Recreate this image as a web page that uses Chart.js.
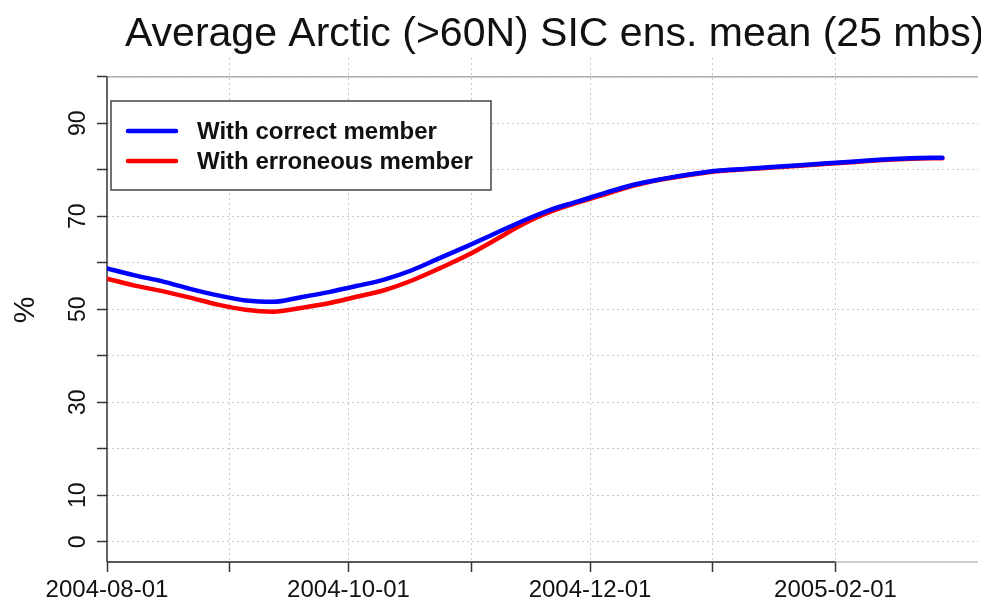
<!DOCTYPE html>
<html>
<head>
<meta charset="utf-8">
<script src="https://cdn.jsdelivr.net/npm/chart.js@4"></script>
<style>
  body { margin: 0; background: #fff; }
  #wrap { width: 981px; height: 601px; }
</style>
</head>
<body>
<div id="wrap"><canvas id="canvas"></canvas></div>
<script>
const dates = ['2004-08-01', '2004-08-08', '2004-08-15', '2004-08-22', '2004-08-29',
  '2004-09-05', '2004-09-12', '2004-09-19', '2004-09-26', '2004-10-03',
  '2004-10-10', '2004-10-17', '2004-10-24', '2004-10-31', '2004-11-07',
  '2004-11-14', '2004-11-21', '2004-11-28', '2004-12-05', '2004-12-12',
  '2004-12-19', '2004-12-26', '2005-01-02', '2005-01-09', '2005-01-16',
  '2005-01-23', '2005-01-30', '2005-02-06', '2005-02-13', '2005-02-20', '2005-02-28']

const correct = [58.8, 57.3, 56.0, 54.4, 53.0, 51.9, 51.6, 52.6, 53.7, 55.0,
  56.4, 58.4, 61.0, 63.6, 66.3, 69.0, 71.4, 73.2, 75.1, 76.8,
  78.0, 79.0, 79.8, 80.2, 80.6, 81.0, 81.4, 81.8, 82.2, 82.5, 82.6]

const erroneous = [56.6, 55.1, 53.9, 52.5, 51.0, 49.9, 49.5, 50.3, 51.3, 52.7,
  54.1, 56.2, 58.8, 61.6, 64.9, 68.3, 71.0, 73.0, 74.8, 76.6,
  77.9, 78.9, 79.7, 80.1, 80.5, 80.9, 81.3, 81.7, 82.1, 82.4, 82.5]

const tickDates = ['2004-08-01', '2004-09-01', '2004-10-01', '2004-11-01', '2004-12-01', '2005-01-01', '2005-02-01']
const tickLabels = ['2004-08-01', '', '2004-10-01', '', '2004-12-01', '', '2005-02-01']
const yTicks = [0, 10, 20, 30, 40, 50, 60, 70, 80, 90, 100]
const yTickLabels = ['0', '10', '', '30', '', '50', '', '70', '', '90', '']

const start = Date.parse(dates[0])
const toDay = d => (Date.parse(d) - start) / 86400000
const tickDays = tickDates.map(toDay)

const font = '"Liberation Sans", Arial, Helvetica, sans-serif'

const data = {
  datasets: [
    {
      label: 'With correct member',
      borderColor: '#0000ff',
      backgroundColor: '#0000ff',
      data: dates.map((d, i) => ({ x: toDay(d), y: correct[i] })),
    },
    {
      label: 'With erroneous member',
      borderColor: '#ff0000',
      backgroundColor: '#ff0000',
      data: dates.map((d, i) => ({ x: toDay(d), y: erroneous[i] })),
    },
  ],
}

// title, axis lines and boxed legend drawn R-style
const rStyle = {
  id: 'rStyle',
  beforeDatasetsDraw(chart) {
    const { ctx, chartArea: a, scales: { x, y } } = chart
    ctx.save()
    ctx.lineWidth = 1.2
    ctx.strokeStyle = '#9a9a9a'
    ctx.beginPath()
    ctx.moveTo(a.left, y.getPixelForValue(100)); ctx.lineTo(a.right, y.getPixelForValue(100))
    ctx.moveTo(a.left, a.bottom); ctx.lineTo(a.right, a.bottom)
    ctx.stroke()
    ctx.strokeStyle = '#333'
    ctx.lineWidth = 1.5
    ctx.beginPath()
    ctx.moveTo(a.left, y.getPixelForValue(100)); ctx.lineTo(a.left, a.bottom)
    ctx.moveTo(x.getPixelForValue(tickDays[0]), a.bottom)
    ctx.lineTo(x.getPixelForValue(tickDays[tickDays.length - 1]), a.bottom)
    ctx.stroke()
    ctx.restore()
  },
  afterDraw(chart) {
    const { ctx, chartArea: a } = chart
    ctx.save()
    ctx.fillStyle = '#111'
    ctx.font = '41px ' + font
    ctx.textAlign = 'left'
    ctx.textBaseline = 'alphabetic'
    ctx.fillText('Average Arctic (>60N) SIC ens. mean (25 mbs)', a.left + 18, 46)

    const bx = a.left + 4, by = 101, bw = 380, bh = 89
    ctx.fillStyle = '#fff'
    ctx.fillRect(bx, by, bw, bh)
    ctx.strokeStyle = '#444'
    ctx.lineWidth = 1.5
    ctx.strokeRect(bx, by, bw, bh)
    ctx.font = 'bold 24px ' + font
    chart.data.datasets.forEach((ds, i) => {
      const ly = by + 30 + i * 30
      ctx.strokeStyle = ds.borderColor
      ctx.lineWidth = 4.5
      ctx.lineCap = 'round'
      ctx.beginPath()
      ctx.moveTo(bx + 17, ly); ctx.lineTo(bx + 65, ly)
      ctx.stroke()
      ctx.fillStyle = '#111'
      ctx.fillText(ds.label, bx + 86, ly + 8)
    })
    ctx.restore()
  },
}

const config = {
  type: 'line',
  data: data,
  plugins: [rStyle],
  options: {
    responsive: true,
    maintainAspectRatio: false,
    animation: false,
    layout: { padding: { top: 58, right: 3, left: 0, bottom: 0 } },
    elements: {
      line: { borderWidth: 4.5, cubicInterpolationMode: 'monotone', borderCapStyle: 'round' },
      point: { radius: 0 },
    },
    plugins: {
      legend: { display: false },
      title: { display: false },
      tooltip: { enabled: false },
    },
    scales: {
      x: {
        type: 'linear',
        min: 0,
        max: 220,
        afterFit: s => { s.height = 39 },
        afterBuildTicks: s => { s.ticks = tickDays.map(v => ({ value: v })) },
        border: { display: false, dash: [2, 3] },
        grid: {
          color: c => (c.tick && c.tick.value === 0 ? 'rgba(0,0,0,0)' : '#c8c8c8'),
          lineWidth: 1,
          tickColor: '#333',
          tickLength: 10,
          tickWidth: 1.5,
        },
        ticks: {
          autoSkip: false,
          maxRotation: 0,
          padding: 4,
          color: '#111',
          font: { family: font, size: 24 },
          callback: v => tickLabels[tickDays.indexOf(v)] ?? '',
        },
      },
      y: {
        min: -4.35,
        max: 104.05,
        afterFit: s => { s.width = 107 },
        afterBuildTicks: s => { s.ticks = yTicks.map(v => ({ value: v })) },
        border: { display: false, dash: [2, 3] },
        grid: {
          color: '#c8c8c8',
          lineWidth: 1,
          tickColor: '#333',
          tickLength: 10,
          tickWidth: 1.5,
        },
        title: {
          display: true,
          text: '%',
          color: '#111',
          font: { family: font, size: 30 },
          padding: { top: 8, bottom: 0 },
        },
        ticks: {
          autoSkip: false,
          minRotation: 90,
          maxRotation: 90,
          crossAlign: 'center',
          padding: 6,
          color: '#111',
          font: { family: font, size: 23 },
          callback: v => yTickLabels[yTicks.indexOf(v)] ?? '',
        },
      },
    },
  },
}

const canvas = document.getElementById('canvas')
const chart = new Chart(canvas, config)
</script>
</body>
</html>
